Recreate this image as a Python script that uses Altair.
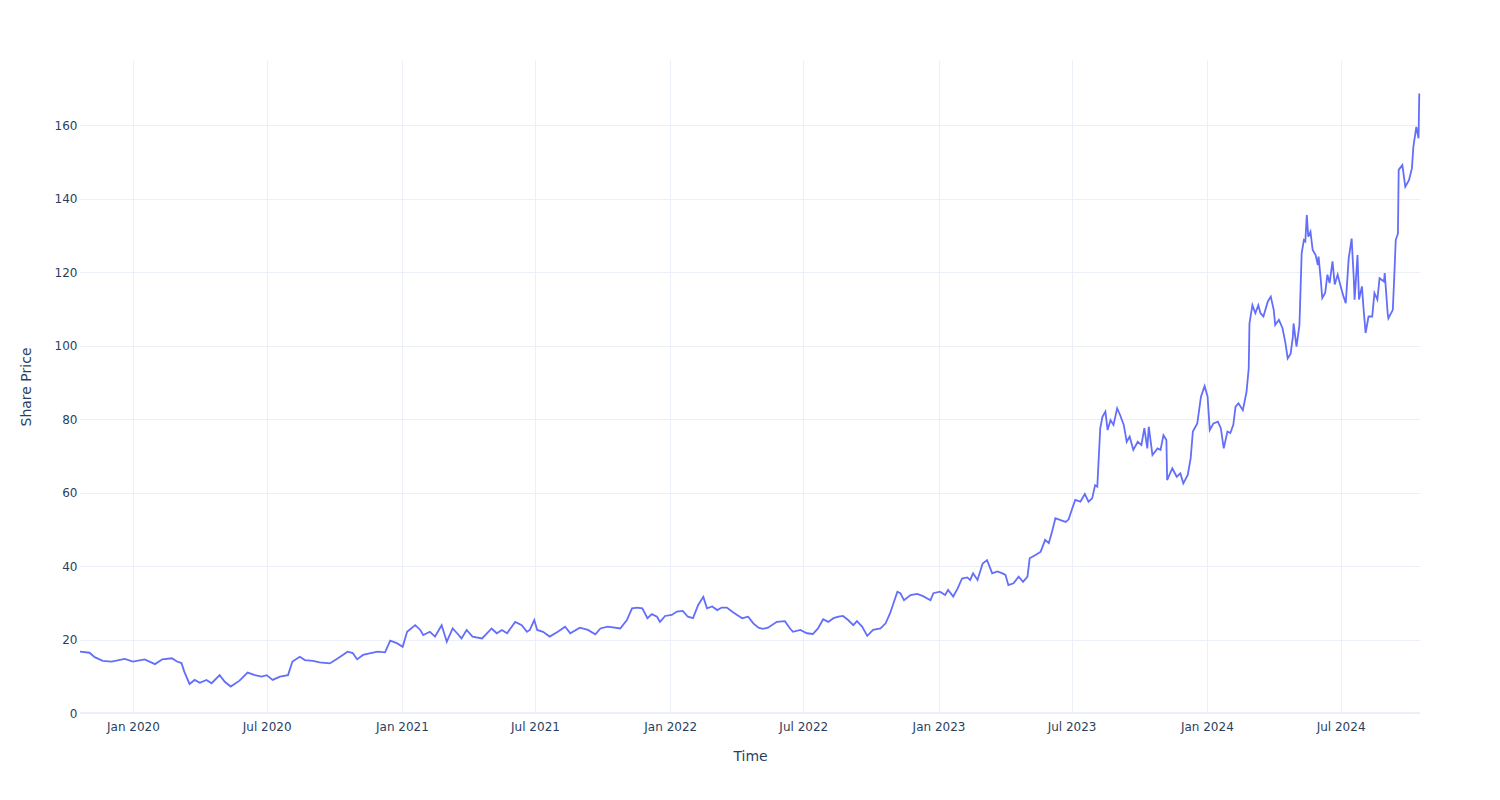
import altair as alt
import pandas as pd

dates = [
    "2019-10-21", "2019-11-03", "2019-11-10", "2019-11-21", "2019-12-03", "2019-12-21",
    "2020-01-01", "2020-01-17", "2020-01-31", "2020-02-10", "2020-02-23", "2020-03-01",
    "2020-03-07", "2020-03-11", "2020-03-18", "2020-03-25", "2020-04-01", "2020-04-10",
    "2020-04-17", "2020-04-28", "2020-05-05", "2020-05-13", "2020-05-25", "2020-06-05",
    "2020-06-15", "2020-06-24", "2020-07-01", "2020-07-09", "2020-07-19", "2020-07-30",
    "2020-08-05", "2020-08-15", "2020-08-22", "2020-09-02", "2020-09-11", "2020-09-25",
    "2020-10-08", "2020-10-19", "2020-10-26", "2020-11-01", "2020-11-09", "2020-11-18",
    "2020-11-29", "2020-12-09", "2020-12-16", "2020-12-25",
    "2021-01-02", "2021-01-08", "2021-01-19", "2021-01-26", "2021-01-30", "2021-02-08",
    "2021-02-15", "2021-02-24", "2021-03-03", "2021-03-11", "2021-03-17", "2021-03-23",
    "2021-03-30", "2021-04-07", "2021-04-20", "2021-05-03", "2021-05-10", "2021-05-17",
    "2021-05-24", "2021-06-04", "2021-06-13", "2021-06-20", "2021-06-24", "2021-06-30",
    "2021-07-04", "2021-07-12", "2021-07-21", "2021-08-01", "2021-08-11", "2021-08-18",
    "2021-08-31", "2021-09-11", "2021-09-21", "2021-09-28", "2021-10-08", "2021-10-25",
    "2021-11-03", "2021-11-10", "2021-11-17", "2021-11-24", "2021-12-01", "2021-12-07",
    "2021-12-14", "2021-12-18", "2021-12-25",
    "2022-01-03", "2022-01-10", "2022-01-18", "2022-01-25", "2022-02-01", "2022-02-08",
    "2022-02-15", "2022-02-20", "2022-02-27", "2022-03-06", "2022-03-12", "2022-03-19",
    "2022-03-26", "2022-04-02", "2022-04-09", "2022-04-17", "2022-04-24", "2022-05-01",
    "2022-05-07", "2022-05-14", "2022-05-26", "2022-06-06", "2022-06-13", "2022-06-17",
    "2022-06-27", "2022-07-06", "2022-07-14", "2022-07-21", "2022-07-28", "2022-08-04",
    "2022-08-11", "2022-08-18", "2022-08-24", "2022-08-31", "2022-09-07", "2022-09-12",
    "2022-09-19", "2022-09-26", "2022-10-04", "2022-10-14", "2022-10-21", "2022-10-27",
    "2022-11-06", "2022-11-10", "2022-11-15", "2022-11-24", "2022-12-03", "2022-12-11",
    "2022-12-21", "2022-12-25",
    "2023-01-03", "2023-01-10", "2023-01-14", "2023-01-21", "2023-01-27", "2023-02-02",
    "2023-02-09", "2023-02-13", "2023-02-17", "2023-02-23", "2023-03-02", "2023-03-08",
    "2023-03-15", "2023-03-22", "2023-03-29", "2023-04-02", "2023-04-06", "2023-04-13",
    "2023-04-20", "2023-04-26", "2023-05-02", "2023-05-05", "2023-05-13", "2023-05-20",
    "2023-05-26", "2023-05-31", "2023-06-05", "2023-06-09", "2023-06-16", "2023-06-23",
    "2023-06-27", "2023-07-02", "2023-07-06", "2023-07-13", "2023-07-19", "2023-07-24",
    "2023-07-29", "2023-08-02", "2023-08-05", "2023-08-09", "2023-08-12", "2023-08-16",
    "2023-08-19", "2023-08-23", "2023-08-27", "2023-09-01", "2023-09-05", "2023-09-10",
    "2023-09-14", "2023-09-18", "2023-09-23", "2023-09-29", "2023-10-04", "2023-10-08",
    "2023-10-12", "2023-10-14", "2023-10-19", "2023-10-26", "2023-10-30", "2023-11-03",
    "2023-11-07", "2023-11-08", "2023-11-15", "2023-11-21", "2023-11-26", "2023-11-30",
    "2023-12-06", "2023-12-10", "2023-12-13", "2023-12-19", "2023-12-24", "2023-12-29",
    "2024-01-02", "2024-01-05", "2024-01-10", "2024-01-16", "2024-01-20", "2024-01-24",
    "2024-01-29", "2024-02-02", "2024-02-06", "2024-02-09", "2024-02-13", "2024-02-19",
    "2024-02-24", "2024-02-27", "2024-02-28", "2024-03-03", "2024-03-07", "2024-03-11",
    "2024-03-14", "2024-03-18", "2024-03-24", "2024-03-28", "2024-04-01", "2024-04-03",
    "2024-04-08", "2024-04-13", "2024-04-17", "2024-04-20", "2024-04-24", "2024-04-27",
    "2024-04-28", "2024-05-02", "2024-05-06", "2024-05-09", "2024-05-12", "2024-05-14",
    "2024-05-16", "2024-05-18", "2024-05-21", "2024-05-24", "2024-05-28", "2024-05-31",
    "2024-06-01", "2024-06-04", "2024-06-06", "2024-06-10", "2024-06-13", "2024-06-16",
    "2024-06-20", "2024-06-23", "2024-06-27", "2024-07-01", "2024-07-05", "2024-07-08",
    "2024-07-12", "2024-07-16", "2024-07-19", "2024-07-20", "2024-07-24", "2024-07-26",
    "2024-07-30", "2024-08-01", "2024-08-04", "2024-08-08", "2024-08-13", "2024-08-16",
    "2024-08-20", "2024-08-23", "2024-08-29", "2024-08-30", "2024-09-03", "2024-09-04",
    "2024-09-10", "2024-09-12", "2024-09-14", "2024-09-17", "2024-09-18", "2024-09-23",
    "2024-09-27", "2024-10-02", "2024-10-06", "2024-10-08", "2024-10-12", "2024-10-15",
    "2024-10-16",
]

prices = [
    16.7, 16.4, 15.2, 14.2, 14.0, 14.7,
    14.0, 14.6, 13.3, 14.6, 14.9, 14.0,
    13.6, 11.2, 7.9, 9.0, 8.2, 9.0,
    8.1, 10.3, 8.5, 7.2, 8.8, 11.0,
    10.3, 9.9, 10.3, 9.0, 9.9, 10.3,
    14.0, 15.3, 14.4, 14.2, 13.8, 13.5,
    15.2, 16.7, 16.3, 14.6, 15.8, 16.2,
    16.7, 16.5, 19.7, 19.0,
    18.0, 22.1, 23.9, 22.6, 21.2, 22.1,
    20.8, 23.9, 19.4, 23.0, 21.7, 20.3,
    22.6, 20.8, 20.3, 23.0, 21.7, 22.6,
    21.7, 24.8, 23.9, 22.1, 22.6, 25.3,
    22.6, 22.1, 20.8, 22.1, 23.5, 21.7,
    23.2, 22.6, 21.4, 23.0, 23.5, 23.0,
    25.3, 28.5, 28.7, 28.5, 25.8, 26.9,
    26.2, 24.8, 26.4,
    26.7, 27.6, 27.8, 26.2, 25.8, 29.4,
    31.6, 28.5, 29.0, 28.0, 28.7, 28.7,
    27.6, 26.7, 25.8, 26.2, 24.4, 23.2,
    22.9, 23.2, 24.8, 25.0, 23.0, 22.1,
    22.6, 21.7, 21.5, 23.0, 25.5, 24.8,
    25.8, 26.2, 26.4, 25.3, 23.9, 25.0,
    23.5, 21.0, 22.6, 23.0, 24.4, 27.1,
    33.0, 32.6, 30.7, 32.1, 32.4, 31.8,
    30.7, 32.6,
    33.0, 32.1, 33.5, 31.7, 33.9, 36.6,
    36.9, 36.2, 38.0, 36.2, 40.7, 41.6,
    38.0, 38.5, 38.0, 37.6, 34.8, 35.3,
    37.1, 35.7, 37.1, 42.1, 43.0, 43.9,
    47.1, 46.2, 49.8, 53.0, 52.5, 52.0,
    52.7, 55.7, 58.0, 57.5, 59.6, 57.5,
    58.4, 62.0, 61.6, 77.5, 80.6, 82.0,
    77.0, 79.7, 78.4, 82.9, 81.1, 78.4,
    73.8, 75.2, 71.6, 73.8, 72.9, 77.5,
    72.0, 77.9, 70.2, 72.0, 71.6, 75.6,
    74.3, 63.4, 66.6, 64.3, 65.2, 62.5,
    64.8, 69.3, 76.6, 78.8, 86.1, 89.0,
    86.1, 77.0, 78.8, 79.3, 77.5, 72.0,
    76.6, 76.2, 78.4, 83.3, 84.3, 82.4,
    87.4, 93.8, 106.0, 111.0, 108.8, 111.0,
    108.8, 107.9, 112.0, 113.3, 109.7, 105.6,
    107.0, 104.7, 100.6, 96.5, 97.8, 102.3,
    106.0, 99.7, 105.6, 125.1, 128.7, 128.3,
    135.5, 129.6, 131.0, 126.0, 124.6, 121.9,
    124.2, 117.9, 112.9, 114.3, 119.3, 117.0,
    122.9, 116.6, 119.3, 116.1, 113.3, 111.5,
    123.7, 129.1, 117.9, 112.5, 124.6, 112.5,
    116.1, 110.6, 103.4, 107.9, 107.9, 114.3,
    112.5, 118.3, 117.4, 119.7, 108.8, 107.4,
    109.7, 118.7, 128.7, 130.5, 147.8, 149.1,
    143.2, 145.0, 148.2, 154.1, 159.5, 156.4,
    168.6,
]

x_ticks = ["2020-01-01", "2020-07-01", "2021-01-01", "2021-07-01", "2022-01-01",
           "2022-07-01", "2023-01-01", "2023-07-01", "2024-01-01", "2024-07-01"]
y_ticks = [0, 20, 40, 60, 80, 100, 120, 140, 160]

df = pd.DataFrame({"Time": pd.to_datetime(dates), "Share Price": prices})

FONT = "DejaVu Sans"
TEXT = "#2a3f5f"
GRID = "#EBF0F8"

x_enc = alt.X(
    "Time:T",
    title="Time",
    scale=alt.Scale(domain=["2019-10-21", "2024-10-17"], nice=False),
    axis=alt.Axis(
        values=[pd.Timestamp(d).isoformat() for d in x_ticks],
        format="%b %Y",
        grid=True, gridColor=GRID, gridWidth=1,
        domain=False, ticks=False,
        labelFont=FONT, labelFontSize=12, labelColor=TEXT, labelPadding=8,
        titleFont=FONT, titleFontSize=14, titleColor=TEXT, titleFontWeight="normal",
        titlePadding=17, labelFlush=False,
    ),
)
y_enc = alt.Y(
    "Share Price:Q",
    title="Share Price",
    scale=alt.Scale(domain=[0, 177.7], nice=False, zero=False),
    axis=alt.Axis(
        values=y_ticks,
        grid=True, gridColor=GRID, gridWidth=1,
        domain=False, ticks=False,
        labelFont=FONT, labelFontSize=12, labelColor=TEXT, labelPadding=3,
        titleFont=FONT, titleFontSize=14, titleColor=TEXT, titleFontWeight="normal",
        titlePadding=21,
    ),
)

line = alt.Chart(df).mark_line(color="#636efa", strokeWidth=1.8, interpolate="linear").encode(
    x=x_enc, y=y_enc
)

zero = alt.Chart(pd.DataFrame({"z": [0]})).mark_rule(color=GRID, strokeWidth=2).encode(
    y=alt.Y("z:Q", scale=alt.Scale(domain=[0, 177.7], nice=False, zero=False))
)

chart = (
    alt.layer(zero, line)
    .properties(
        width=1340,
        height=653,
        padding={"left": 72, "top": 52, "right": 72, "bottom": 80},
        autosize=alt.AutoSizeParams(type="none"),
        background="white",
    )
    .configure_view(stroke=None)
)

chart.save("out.html", embed_options={"renderer": "svg", "actions": False})
